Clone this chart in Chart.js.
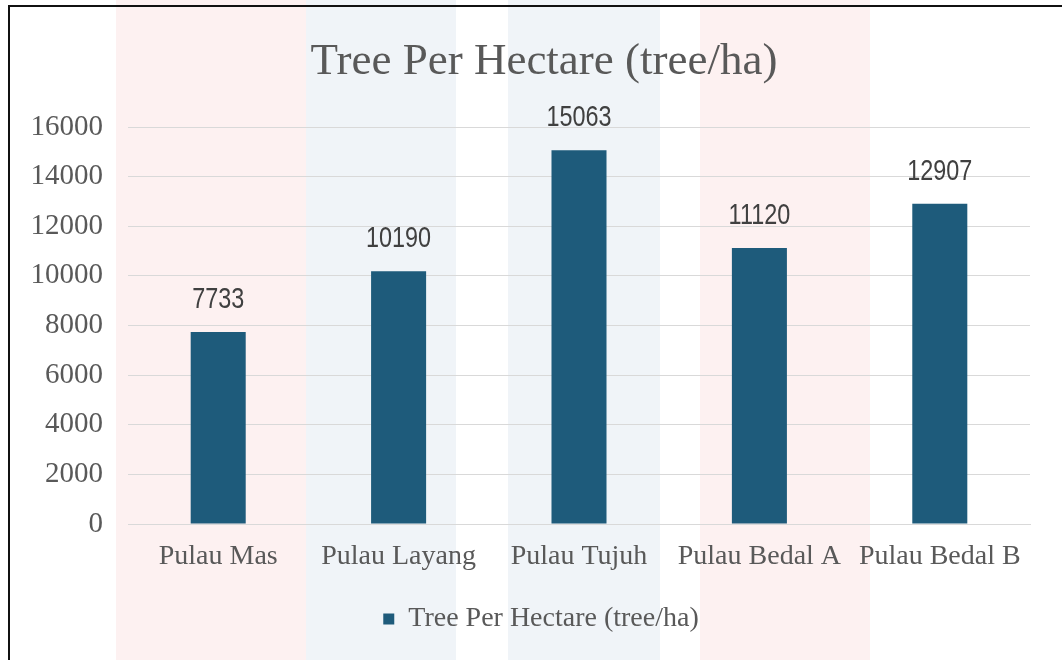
<!DOCTYPE html>
<html>
<head>
<meta charset="utf-8">
<script src="https://cdn.jsdelivr.net/npm/chart.js@4.4.1/dist/chart.umd.min.js"></script>
<style>
  html, body { margin: 0; padding: 0; background: #ffffff; }
  #wrap { position: absolute; left: 0; top: 0; width: 1062px; height: 660px; }
  #frame { position: absolute; left: 8px; top: 5px; width: 1060px; height: 660px;
           border-left: 2px solid #111; border-top: 2px solid #111; box-sizing: border-box; pointer-events: none; }
  canvas { position: absolute; left: 0; top: 0; }
</style>
</head>
<body>
<div id="wrap">
  <canvas id="c" width="1062" height="660"></canvas>
  <div id="frame"></div>
</div>
<script>
const categories = ["Pulau Mas", "Pulau Layang", "Pulau Tujuh", "Pulau Bedal A", "Pulau Bedal B"];
const treePerHectare = [7733, 10190, 15063, 11120, 12907];
const seriesName = "Tree Per Hectare (tree/ha)";
const chartTitle = "Tree Per Hectare (tree/ha)";
const yTicks = [0, 2000, 4000, 6000, 8000, 10000, 12000, 14000, 16000];

const serif = "'Liberation Serif', 'DejaVu Serif', serif";
const sans = "'Liberation Sans', 'DejaVu Sans', sans-serif";

const watermark = {
  id: 'watermark',
  beforeDraw(chart) {
    const ctx = chart.ctx;
    ctx.save();
    ctx.fillStyle = 'rgba(240,120,120,0.10)';
    ctx.fillRect(116, 0, 190, 660);
    ctx.fillRect(700, 0, 170, 660);
    ctx.fillStyle = 'rgba(150,180,205,0.14)';
    ctx.fillRect(306, 0, 150, 660);
    ctx.fillRect(508, 0, 152, 660);
    ctx.restore();
  }
};

const legendShift = {
  id: 'legendShift',
  afterLayout(chart) {
    if (chart.legend) {
      chart.legend.left += 15;
      chart.legend.right += 15;
    }
  }
};

const titleDraw = {
  id: 'titleDraw',
  afterDraw(chart) {
    const ctx = chart.ctx;
    ctx.save();
    ctx.font = "45px " + serif;
    ctx.fillStyle = '#595959';
    ctx.textAlign = 'center';
    ctx.textBaseline = 'middle';
    ctx.fillText(chartTitle, 544, 62);
    ctx.restore();
  }
};

const valueLabels = {
  id: 'valueLabels',
  afterDatasetsDraw(chart) {
    const ctx = chart.ctx;
    const meta = chart.getDatasetMeta(0);
    const sx = 0.78;
    ctx.save();
    ctx.font = "30px " + sans;
    ctx.fillStyle = '#404040';
    ctx.textAlign = 'center';
    ctx.textBaseline = 'alphabetic';
    meta.data.forEach((bar, i) => {
      ctx.save();
      ctx.translate(bar.x, bar.y - 24);
      ctx.scale(sx, 1);
      ctx.fillText(String(chart.data.datasets[0].data[i]), 0, 0);
      ctx.restore();
    });
    ctx.restore();
  }
};

new Chart(document.getElementById('c'), {
  type: 'bar',
  data: {
    labels: categories,
    datasets: [{
      label: seriesName,
      data: treePerHectare,
      backgroundColor: '#1e5b7b',
      borderWidth: 0,
      barPercentage: 0.305,
      categoryPercentage: 1.0
    }]
  },
  options: {
    responsive: false,
    animation: false,
    devicePixelRatio: 1,
    layout: { padding: { left: 22, right: 32, top: 127, bottom: 17 } },
    plugins: {
      title: { display: false },
      legend: {
        display: true,
        position: 'bottom',
        labels: {
          color: '#595959',
          font: { family: serif, size: 28 },
          boxWidth: 11,
          boxHeight: 11,
          padding: 20
        }
      },
      tooltip: { enabled: false }
    },
    scales: {
      x: {
        grid: { display: false },
        border: { display: true, color: '#d9d9d9', width: 1 },
        ticks: { color: '#595959', font: { family: serif, size: 28 }, padding: 8, maxRotation: 0 },
        afterFit(scale) { scale.height = 61; }
      },
      y: {
        min: 0,
        max: 16000,
        afterBuildTicks(scale) { scale.ticks = yTicks.map(v => ({ value: v })); },
        grid: { color: '#d9d9d9', lineWidth: 1, drawTicks: false },
        border: { display: false },
        ticks: {
          color: '#595959',
          font: { family: serif, size: 29 },
          padding: 25,
          callback: (v) => String(v)
        },
        afterFit(scale) { scale.width = 106; }
      }
    }
  },
  plugins: [watermark, legendShift, valueLabels, titleDraw]
});
</script>
</body>
</html>
